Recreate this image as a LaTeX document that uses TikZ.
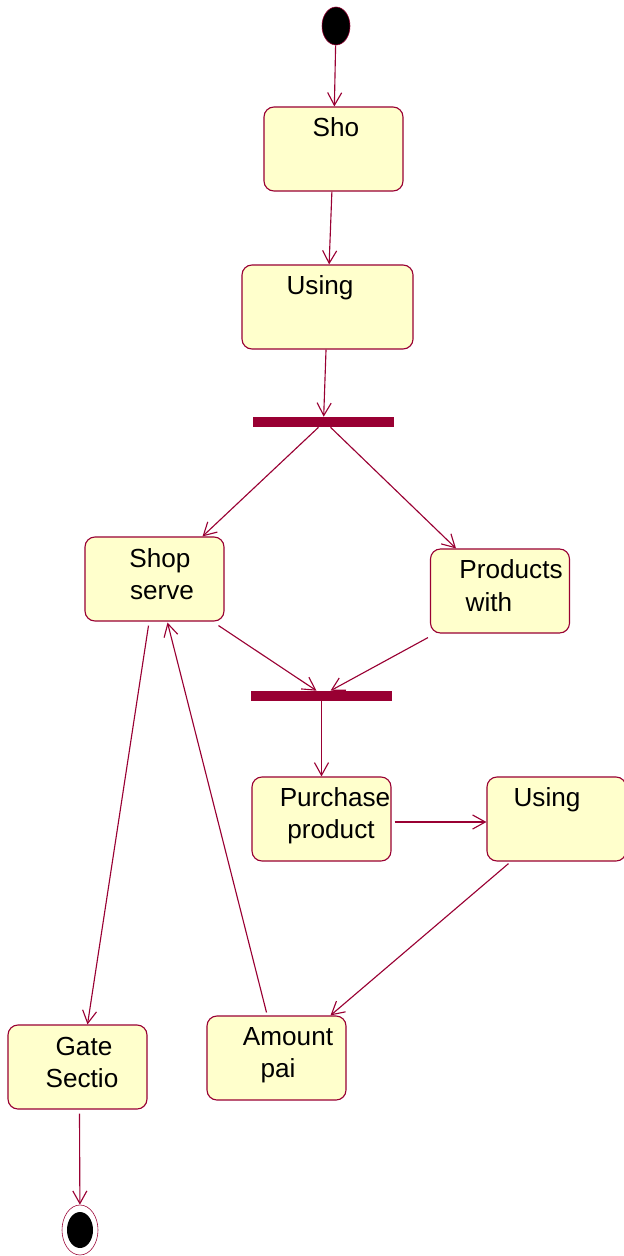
\documentclass[tikz,border=0pt]{standalone}
\usepackage{fontspec}
\setmainfont{Liberation Sans}
\usetikzlibrary{shapes.geometric,arrows.meta,calc}

\definecolor{umlred}{RGB}{153,0,51}
\definecolor{umlfill}{RGB}{255,255,204}

\tikzset{
  activity/.style={draw=umlred, fill=umlfill, rounded corners=0.25cm, line width=0.8pt,
    minimum width=3.475cm, minimum height=2.1cm, inner sep=0pt},
  bar/.style={fill=umlred, minimum width=3.525cm, minimum height=0.25cm, inner sep=0pt},
  txt/.style={anchor=base, inner sep=0pt, font=\fontsize{18.6pt}{22pt}\selectfont},
  flow/.style={draw=umlred, line width=0.8pt, -{Straight Barb[length=9pt,width=10pt]}}
}

\begin{document}
\begin{tikzpicture}[x=0.025cm, y=-0.025cm]
            \useasboundingbox (0,0) rectangle (624,1256);
            \clip (0,0) rectangle (624,1256);

            \node[ellipse, draw=umlred, fill=black, minimum width=0.7cm, minimum height=0.95cm, inner sep=0pt] (start) at (336,26) {};
            \node[activity] (sho) at (333.5,149) {};
            \node[activity, minimum width=4.275cm] (usingweb) at (327.5,307) {};
            \node[bar] (fork) at (323.5,422) {};
            \node[activity] (shopserve) at (154.5,579) {};
            \node[activity] (products) at (500,591) {};
            \node[bar] (join) at (321.5,696) {};
            \node[activity] (purchase) at (321.5,819) {};
            \node[activity] (usingcart) at (556.5,819) {};
            \node[activity] (amount) at (276.5,1058) {};
            \node[activity] (gate) at (77.5,1067) {};
            \node[ellipse, draw=umlred, fill=white, minimum width=0.9cm, minimum height=1.25cm, inner sep=0pt] (end) at (80,1230) {};
            \node[ellipse, fill=black, minimum width=0.65cm, minimum height=0.9cm, inner sep=0pt] at (end.center) {};

            % texts
            \node[txt] at (336,136) {Sho};
            \node[txt] at (320,294) {Using};
            \node[txt] at (160,567) {Shop};
            \node[txt] at (162,599) {serve};
            \node[txt] at (511,578) {Products};
            \node[txt] at (489,611) {with};
            \node[txt] at (335,806) {Purchase};
            \node[txt] at (331,838) {product};
            \node[txt] at (547,806) {Using};
            \node[txt] at (288,1045) {Amount};
            \node[txt] at (278,1077) {pai};
            \node[txt] at (84,1055) {Gate};
            \node[txt] at (82,1087) {Sectio};

            \draw[flow] (start) -- (sho);
            \draw[flow] (sho) -- (usingweb);
            \draw[flow] (usingweb) -- (fork);
            \draw[flow] ($(fork.south)+(-5,0)$) -- ($(shopserve.north)+(48,0)$);
            \draw[flow] ($(fork.south)+(7,0)$) -- ($(products.north)+(-44,0)$);
            \draw[flow] ($(shopserve.south)+(64,4)$) -- ($(join.north)+(-5,0)$);
            \draw[flow] ($(products.south)+(-72,4)$) -- ($(join.north)+(9,0)$);
            \draw[flow] (join) -- (purchase);
            \draw[flow] ($(purchase.east)+(3,3)$) -- ($(usingcart.west)+(0,3)$);
            \draw[flow] ($(usingcart.south)+(-48,2)$) -- ($(amount.north)+(54,0)$);
            \draw[flow] ($(amount.north)+(-10,-3)$) -- ($(shopserve.south)+(13,1)$);
            \draw[flow] ($(shopserve.south)+(-6,4)$) -- ($(gate.north)+(10,0)$);
            \draw[flow] ($(gate.south)+(2,4)$) -- (end);
        \end{tikzpicture}
\end{document}
